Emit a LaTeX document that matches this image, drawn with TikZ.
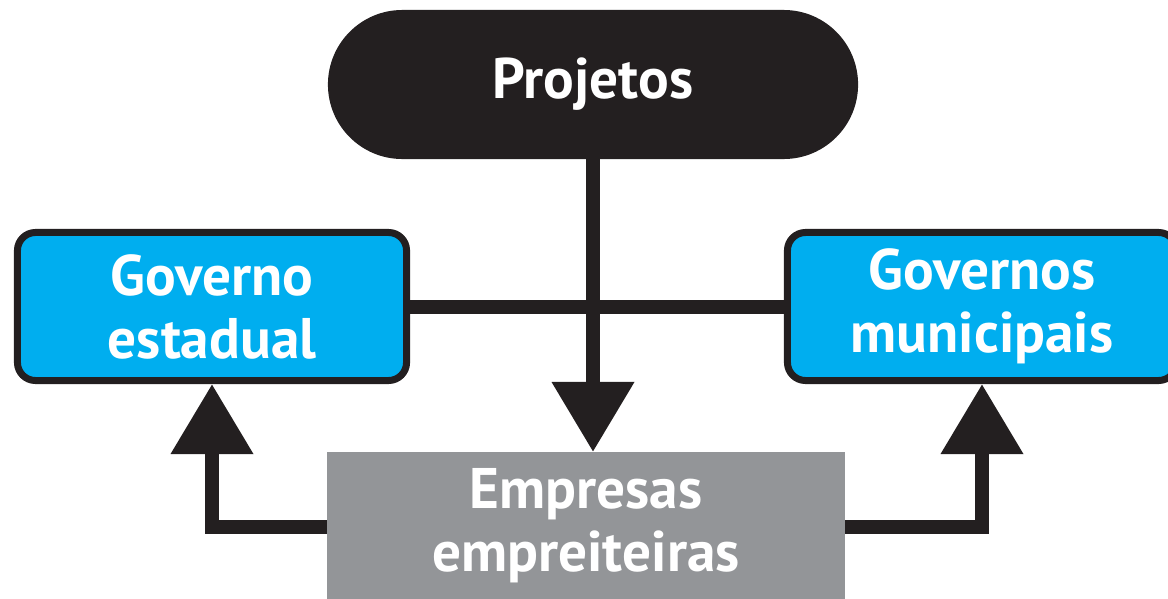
\documentclass[tikz,border=0pt]{standalone}
\usepackage{fontspec}
\setmainfont{PT Sans}
\usetikzlibrary{arrows.meta,positioning}
\definecolor{boxblue}{HTML}{00AEEF}
\definecolor{inkblack}{HTML}{231F20}
\definecolor{boxgray}{HTML}{939598}
\begin{document}
\begin{tikzpicture}[
	>={Triangle[length=1.75cm,width=1.975cm]},
	line width=0.35cm,
	x=0.025cm,y=-0.025cm,
	font=\fontsize{40.7}{44.8}\selectfont\bfseries,
	pill/.style={fill=inkblack, text=white, outer sep=0pt, minimum width=13.25cm, minimum height=3.725cm, rounded corners=1.86cm},
	govbox/.style={draw=inkblack, line width=0.175cm, fill=boxblue, text=white, align=center, minimum width=9.725cm, minimum height=3.7cm, rounded corners=0.45cm},
	empbox/.style={fill=boxgray, text=white, align=center, outer sep=0pt, minimum width=12.95cm, minimum height=3.75cm}
	]
	% frame
	\useasboundingbox (0,0) rectangle (1168,598);
	\clip (0,0) rectangle (1168,598);

			\node[pill] (projetos)   at (593, 84.5) {Projetos};
			\node[govbox] (estadual)   at (212, 306.5) {Governo\\estadual};
			\node[govbox] (municipais)   at (982, 306.5) {Governos\\municipais};
			\node[empbox] (empresas)   at (586, 527) {\raisebox{4pt}{\begin{tabular}{@{}c@{}}Empresas\\empreiteiras\end{tabular}}};

			\draw[inkblack] (estadual) -- (municipais);
			\draw[->, inkblack] (projetos.south) -- (projetos.south |- empresas.north);
			\draw[->, inkblack] (empresas.west) -| (estadual.south);
			\draw[->, inkblack] (empresas.east) -| (municipais.south);

\end{tikzpicture}
\end{document}
